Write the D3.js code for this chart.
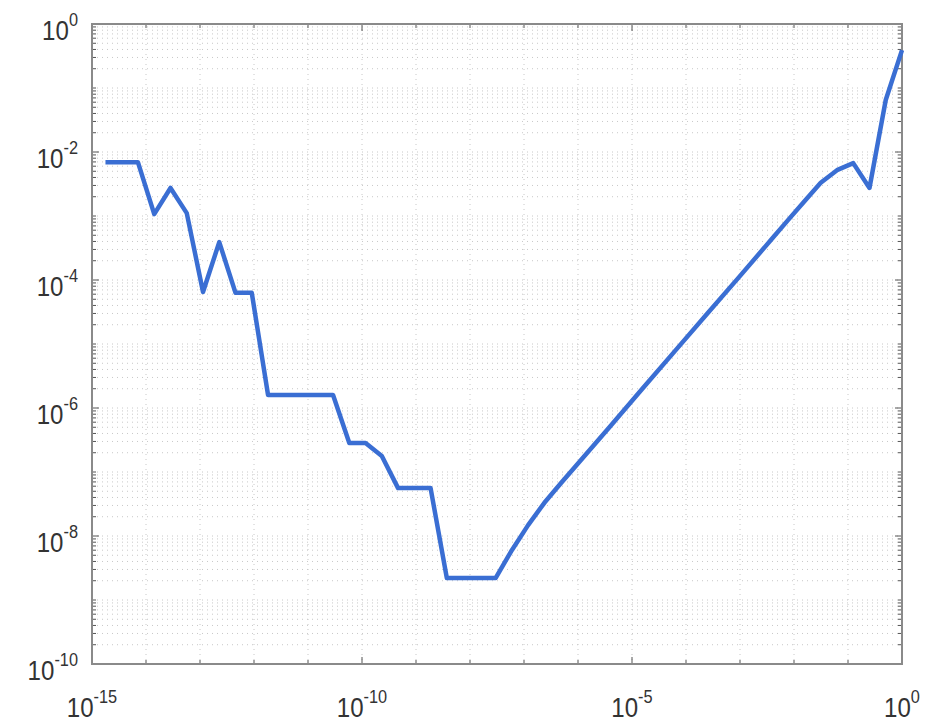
<!DOCTYPE html>
<html>
<head>
<meta charset="utf-8">
<script src="https://cdn.jsdelivr.net/npm/d3@7"></script>
<style>
  html, body { margin: 0; padding: 0; background: #ffffff; }
  svg { display: block; }
  .lbl { font-family: "Liberation Sans", Arial, sans-serif; fill: #333; }
</style>
</head>
<body>
<svg id="chart" width="926" height="724"></svg>
<script>
// Step sizes h (powers of two) and the measured error at each step
const stepSize = [
  1.776e-15, 7.105e-15, 1.421e-14, 2.842e-14, 5.684e-14, 1.137e-13,
  2.274e-13, 4.547e-13, 9.095e-13, 1.819e-12, 2.910e-11, 5.821e-11,
  1.164e-10, 2.328e-10, 4.657e-10, 1.863e-9, 3.725e-9, 2.980e-8,
  5.960e-8, 1.192e-7, 2.384e-7, 4.768e-7, 9.537e-7, 3.815e-6,
  1.526e-5, 6.104e-5, 2.441e-4, 9.766e-4, 3.906e-3, 7.813e-3,
  1.563e-2, 3.125e-2, 6.25e-2, 0.125, 0.25, 0.5, 1
];
const errorValue = [
  6.9e-3, 6.9e-3, 1.07e-3, 2.74e-3, 1.11e-3, 6.5e-5,
  3.9e-4, 6.3e-5, 6.3e-5, 1.6e-6, 1.6e-6, 2.84e-7,
  2.84e-7, 1.78e-7, 5.6e-8, 5.6e-8, 2.2e-9, 2.2e-9,
  6.0e-9, 1.48e-8, 3.3e-8, 6.6e-8, 1.3e-7, 5.0e-7,
  1.96e-6, 7.6e-6, 2.95e-5, 1.13e-4, 4.4e-4, 8.7e-4,
  1.7e-3, 3.3e-3, 5.2e-3, 6.7e-3, 2.74e-3, 6.5e-2, 0.39
];

// Axis limits and labelled decades
const xDomain = [1e-15, 1];
const yDomain = [1e-10, 1];
const xTickExp = [-15, -10, -5, 0];
const yTickExp = [-10, -8, -6, -4, -2, 0];

const svg = d3.select("#chart");
const plot = { left: 92, right: 902, top: 24, bottom: 664 };

const x = d3.scaleLog().domain(xDomain).range([plot.left, plot.right]);
const y = d3.scaleLog().domain(yDomain).range([plot.bottom, plot.top]);

// Every decade on x, every 1..9 x 10^k on y
const xMinor = d3.range(-15, 1).map(e => Math.pow(10, e));
const yMinor = [];
for (let e = -10; e < 0; e++) {
  for (let m = 1; m <= 9; m++) yMinor.push(m * Math.pow(10, e));
}
yMinor.push(1);

// Dotted grid
const grid = svg.append("g").attr("stroke", "#c8c8c8").attr("stroke-width", 1)
  .attr("stroke-dasharray", "1,4");
grid.selectAll("line.gx").data(xMinor.slice(1, -1)).join("line")
  .attr("x1", d => x(d)).attr("x2", d => x(d))
  .attr("y1", plot.top).attr("y2", plot.bottom);
grid.selectAll("line.gy").data(yMinor.slice(1, -1)).join("line")
  .attr("y1", d => y(d)).attr("y2", d => y(d))
  .attr("x1", plot.left).attr("x2", plot.right);

// Inward tick marks on all four sides
const ticks = svg.append("g").attr("stroke", "#555").attr("stroke-width", 1);
const isMajorY = d => yTickExp.some(e => Math.abs(Math.log10(d) - e) < 1e-9);
const isMajorX = d => xTickExp.some(e => Math.abs(Math.log10(d) - e) < 1e-9);
yMinor.forEach(d => {
  const len = isMajorY(d) ? 7 : 4;
  ticks.append("line").attr("x1", plot.left).attr("x2", plot.left + len)
    .attr("y1", y(d)).attr("y2", y(d));
  ticks.append("line").attr("x1", plot.right).attr("x2", plot.right - len)
    .attr("y1", y(d)).attr("y2", y(d));
});
xMinor.forEach(d => {
  const len = isMajorX(d) ? 7 : 4;
  ticks.append("line").attr("y1", plot.bottom).attr("y2", plot.bottom - len)
    .attr("x1", x(d)).attr("x2", x(d));
  ticks.append("line").attr("y1", plot.top).attr("y2", plot.top + len)
    .attr("x1", x(d)).attr("x2", x(d));
});

// Axes box
svg.append("rect")
  .attr("x", plot.left).attr("y", plot.top)
  .attr("width", plot.right - plot.left).attr("height", plot.bottom - plot.top)
  .attr("fill", "none").attr("stroke", "#8a8a8a").attr("stroke-width", 2);

// Power-of-ten labels: "10" with a raised exponent
function powerLabel(g, exp, anchor) {
  const t = g.append("text").attr("class", "lbl").attr("text-anchor", anchor)
    .attr("font-size", 28);
  t.append("tspan").text("10");
  t.append("tspan").attr("font-size", 19).attr("dy", -14).text(String(exp));
}

xTickExp.forEach(e => {
  const g = svg.append("g")
    .attr("transform", `translate(${x(Math.pow(10, e))},717) scale(0.86,1)`);
  powerLabel(g, e, "middle");
});
yTickExp.forEach(e => {
  const g = svg.append("g")
    .attr("transform", `translate(78,${y(Math.pow(10, e)) + 16}) scale(0.86,1)`);
  powerLabel(g, e, "end");
});

// Error curve
const pts = stepSize.map((h, i) => [h, errorValue[i]]);
const line = d3.line().x(d => x(d[0])).y(d => y(d[1]));
svg.append("path")
  .datum(pts)
  .attr("d", line)
  .attr("fill", "none")
  .attr("stroke", "#3a6ed3")
  .attr("stroke-width", 4.5)
  .attr("stroke-linejoin", "round");
</script>
</body>
</html>
